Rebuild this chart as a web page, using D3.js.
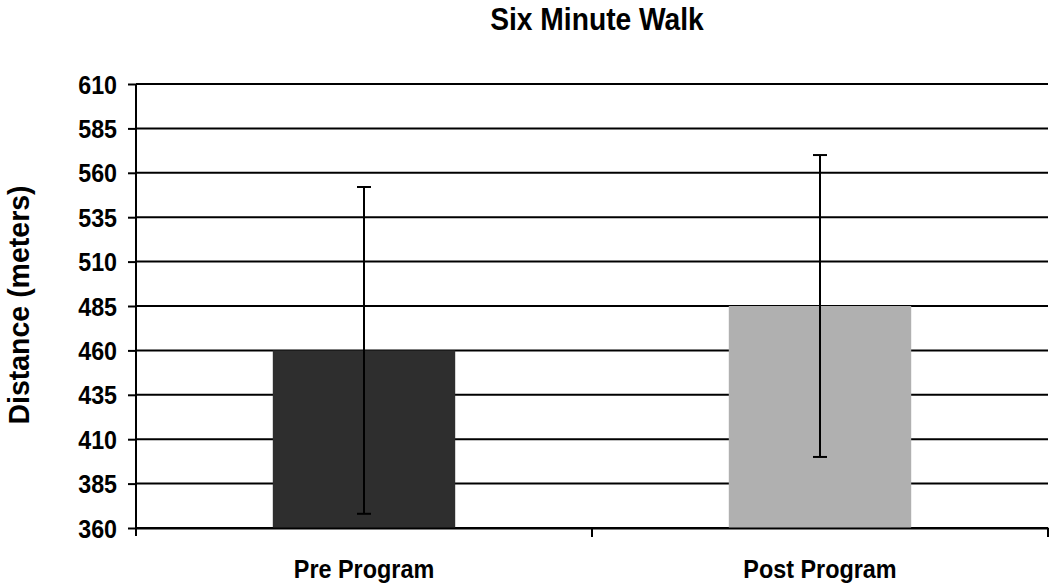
<!DOCTYPE html>
<html>
<head>
<meta charset="utf-8">
<script src="https://cdn.jsdelivr.net/npm/d3@7"></script>
<style>
  body { margin: 0; background: #fff; }
  text { font-family: "Liberation Sans", Arial, sans-serif; font-weight: bold; fill: #000; }
</style>
</head>
<body>
<script>
// chart data
const groups = ['Pre Program', 'Post Program']
const means = [460, 485]
const errors = [92, 85]
const barColors = ['#2e2e2e', '#b0b0b0']
const yTicks = [360, 385, 410, 435, 460, 485, 510, 535, 560, 585, 610]

const width = 1050, height = 587
const margin = { top: 84, right: 2, bottom: 59, left: 136 }

const svg = d3.select('body').append('svg')
    .attr('width', width)
    .attr('height', height)

// scales
const xScale = d3.scaleBand()
    .domain(groups)
    .range([margin.left, width - margin.right])
    .paddingInner(0.6)
    .paddingOuter(0.3)

const yScale = d3.scaleLinear()
    .domain([360, 610])
    .range([height - margin.bottom, margin.top])

// gridlines
svg.append('g')
    .selectAll('line')
    .data(yTicks)
    .enter()
    .append('line')
    .attr('x1', margin.left)
    .attr('x2', width - margin.right)
    .attr('y1', d => yScale(d))
    .attr('y2', d => yScale(d))
    .attr('stroke', '#000')
    .attr('stroke-width', 2)

// bars
svg.selectAll('.bar')
    .data(groups)
    .enter()
    .append('rect')
    .attr('x', d => xScale(d))
    .attr('y', (d, i) => yScale(means[i]))
    .attr('width', xScale.bandwidth())
    .attr('height', (d, i) => yScale(360) - yScale(means[i]))
    .attr('fill', (d, i) => barColors[i])

// error bars
const errG = svg.append('g')
    .selectAll('g')
    .data(groups)
    .enter()
    .append('g')
    .attr('stroke', '#000')
    .attr('stroke-width', 2)

errG.append('line')
    .attr('x1', d => xScale(d) + xScale.bandwidth() / 2)
    .attr('x2', d => xScale(d) + xScale.bandwidth() / 2)
    .attr('y1', (d, i) => yScale(means[i] + errors[i]))
    .attr('y2', (d, i) => yScale(means[i] - errors[i]))

errG.append('line')
    .attr('x1', d => xScale(d) + xScale.bandwidth() / 2 - 7)
    .attr('x2', d => xScale(d) + xScale.bandwidth() / 2 + 7)
    .attr('y1', (d, i) => yScale(means[i] + errors[i]))
    .attr('y2', (d, i) => yScale(means[i] + errors[i]))

errG.append('line')
    .attr('x1', d => xScale(d) + xScale.bandwidth() / 2 - 7)
    .attr('x2', d => xScale(d) + xScale.bandwidth() / 2 + 7)
    .attr('y1', (d, i) => yScale(means[i] - errors[i]))
    .attr('y2', (d, i) => yScale(means[i] - errors[i]))

// y axis
const yAxis = svg.append('g')
    .attr('transform', 'translate(' + margin.left + ',0)')
    .call(d3.axisLeft(yScale).tickValues(yTicks).tickSize(8))
yAxis.select('.domain')
    .attr('stroke-width', 2)
    .attr('d', 'M0,' + margin.top + 'V' + (height - margin.bottom + 8))
yAxis.selectAll('.tick line').attr('stroke-width', 2)
// text in the original is a bit narrow and tall
yAxis.selectAll('.tick text')
    .style('font-size', '25px')
    .attr('x', 0)
    .attr('dy', '0.36em')
    .attr('transform', 'translate(-19,0) scale(0.93,1)')

// x axis
const xAxis = svg.append('g')
    .attr('transform', 'translate(0,' + (height - margin.bottom) + ')')
    .call(d3.axisBottom(xScale).tickSize(0))
xAxis.select('.domain').attr('stroke-width', 2)
xAxis.selectAll('.tick text')
    .style('font-size', '26px')
    .attr('y', 0)
    .attr('dy', 0)
    .attr('transform', 'translate(0,50) scale(0.9,1)')

// category separators on x axis
const step = xScale.step()
const seps = [margin.left + step * 1, width - margin.right]
xAxis.selectAll('.sep')
    .data(seps)
    .enter()
    .append('line')
    .attr('x1', d => d)
    .attr('x2', d => d)
    .attr('y1', 0)
    .attr('y2', 9)
    .attr('stroke', '#000')
    .attr('stroke-width', 2)

// title
svg.append('text')
    .attr('transform', 'translate(597,30) scale(0.91,1)')
    .attr('text-anchor', 'middle')
    .style('font-size', '31px')
    .text('Six Minute Walk')

// y axis label
svg.append('text')
    .attr('transform', 'translate(29,' + 305 + ') rotate(-90) scale(0.95,1)')
    .attr('text-anchor', 'middle')
    .style('font-size', '30px')
    .text('Distance (meters)')
</script>
</body>
</html>
